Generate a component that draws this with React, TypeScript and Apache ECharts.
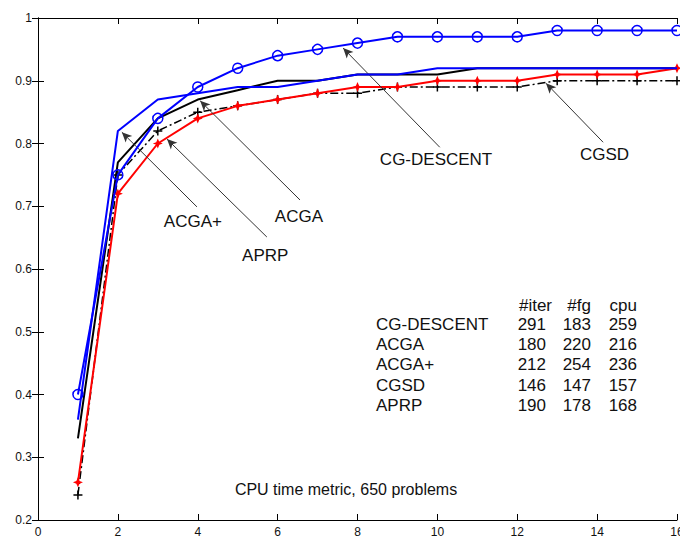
import React, { useEffect, useRef } from 'react';
import * as echarts from 'echarts';

const xValues = [1, 2, 3, 4, 5, 6, 7, 8, 9, 10, 11, 12, 13, 14, 15, 16];
const cgDescent = [0.40, 0.75, 0.84, 0.89, 0.92, 0.94, 0.95, 0.96, 0.97, 0.97, 0.97, 0.97, 0.98, 0.98, 0.98, 0.98];
const acga = [0.33, 0.77, 0.84, 0.87, 0.885, 0.90, 0.90, 0.91, 0.91, 0.91, 0.92, 0.92, 0.92, 0.92, 0.92, 0.92];
const acgaPlus = [0.36, 0.82, 0.87, 0.88, 0.89, 0.89, 0.90, 0.91, 0.91, 0.92, 0.92, 0.92, 0.92, 0.92, 0.92, 0.92];
const cgsd = [0.24, 0.75, 0.82, 0.85, 0.86, 0.87, 0.88, 0.88, 0.89, 0.89, 0.89, 0.89, 0.90, 0.90, 0.90, 0.90];
const aprp = [0.26, 0.72, 0.80, 0.84, 0.86, 0.87, 0.88, 0.89, 0.89, 0.90, 0.90, 0.90, 0.91, 0.91, 0.91, 0.92];

const tableHeaders = ['#iter', '#fg', 'cpu'];
const tableNames = ['CG-DESCENT', 'ACGA', 'ACGA+', 'CGSD', 'APRP'];
const iterCol = [291, 180, 212, 146, 190];
const fgCol = [183, 220, 254, 147, 178];
const cpuCol = [259, 216, 236, 157, 168];

const labelNames = ['CG-DESCENT', 'CGSD', 'ACGA', 'ACGA+', 'APRP'];
const labelX = [8.56, 13.57, 5.93, 3.15, 5.11];
const labelY = [0.774, 0.782, 0.683, 0.676, 0.622];
const arrowTailX = [10.06, 14.15, 6.56, 3.98, 5.73];
const arrowTailY = [0.794, 0.802, 0.71, 0.699, 0.651];
const arrowHeadX = [7.64, 12.72, 4.06, 2.10, 3.23];
const arrowHeadY = [0.952, 0.896, 0.868, 0.818, 0.807];

const caption = 'CPU time metric, 650 problems';
const captionX = 4.93;
const captionY = 0.249;

const FONT = 'Arial, "Liberation Sans", sans-serif';

const pairs = (ys: number[]) => xValues.map((x, i) => [x, ys[i]]);

export default function App() {
  const ref = useRef<HTMLDivElement>(null);
  useEffect(() => {
    if (!ref.current) return;
    const chart = echarts.init(ref.current, null, { renderer: 'svg' });
    const axisCommon = {
      axisLine: { show: true, lineStyle: { color: '#000', width: 1 } },
      axisTick: { show: true, inside: true, length: 6, lineStyle: { color: '#000' } },
      splitLine: { show: false },
    };
    const plusPath = 'path://M-5,0 L5,0 M0,-5 L0,5';
    const starPath = 'path://M0,-6 L1.6,-1.6 L5,0 L1.6,1.6 L0,6 L-1.6,1.6 L-5,0 L-1.6,-1.6 Z';
    const option: any = {
      animation: false,
      backgroundColor: '#fff',
      grid: { left: 38, right: 3, top: 18, bottom: 20, containLabel: false, outerBoundsMode: 'none' },
      xAxis: [
        {
          type: 'value', min: 0, max: 16, interval: 2, position: 'bottom',
          ...axisCommon,
          axisLabel: { color: '#111', fontSize: 12, fontFamily: FONT, margin: 6 },
        },
        {
          type: 'value', min: 0, max: 16, interval: 2, position: 'top',
          ...axisCommon,
          axisLabel: { show: false },
        },
      ],
      yAxis: [
        {
          type: 'value', min: 0.2, max: 1, interval: 0.1, position: 'left',
          ...axisCommon,
          axisLabel: { color: '#111', fontSize: 12, fontFamily: FONT, margin: 6 },
        },
        {
          type: 'value', min: 0.2, max: 1, interval: 0.1, position: 'right',
          ...axisCommon,
          axisLabel: { show: false },
        },
      ],
      series: [
        {
          name: 'CGSD', type: 'line', data: pairs(cgsd),
          lineStyle: { color: '#000', width: 1.5, type: [8, 3, 2, 3] },
          symbol: plusPath, symbolSize: 9,
          itemStyle: { color: 'rgba(0,0,0,0)', borderColor: '#000', borderWidth: 1.5 },
          z: 2,
        },
        {
          name: 'ACGA', type: 'line', data: pairs(acga),
          lineStyle: { color: '#000', width: 2 }, symbol: 'none', z: 3,
        },
        {
          name: 'APRP', type: 'line', data: pairs(aprp),
          lineStyle: { color: '#ff0000', width: 2 },
          symbol: starPath, symbolSize: 10,
          itemStyle: { color: '#ff0000' },
          z: 4,
        },
        {
          name: 'ACGA+', type: 'line', data: pairs(acgaPlus),
          lineStyle: { color: '#0000ff', width: 2 }, symbol: 'none', z: 5,
        },
        {
          name: 'CG-DESCENT', type: 'line', data: pairs(cgDescent),
          lineStyle: { color: '#0000ff', width: 2 },
          symbol: 'circle', symbolSize: 10,
          itemStyle: { color: 'rgba(0,0,0,0)', borderColor: '#0000ff', borderWidth: 1.5 },
          z: 6,
        },
        {
          name: 'arrows', type: 'line', data: [], z: 7, silent: true,
          markLine: {
            silent: true,
            symbol: ['none', 'arrow'],
            symbolSize: [7, 10],
            label: { show: false },
            lineStyle: { color: '#333', width: 1, type: 'solid' },
            data: labelNames.map((_, i) => [
              { coord: [arrowTailX[i], arrowTailY[i]] },
              { coord: [arrowHeadX[i], arrowHeadY[i]] },
            ]),
          },
        },
      ],
    };
    chart.setOption(option);

    const toPx = (x: number, y: number) =>
      chart.convertToPixel({ xAxisIndex: 0, yAxisIndex: 0 }, [x, y]) as number[];
    const textStyle = (t: string, align = 'left') => ({
      text: t, fill: '#111', fontSize: 17, fontFamily: FONT, align, verticalAlign: 'middle',
    });
    const graphics: any[] = [];
    labelNames.forEach((name, i) => {
      const p = toPx(labelX[i], labelY[i]);
      graphics.push({ type: 'text', x: p[0], y: p[1], style: textStyle(name), z: 10 });
    });
    const cp = toPx(captionX, captionY);
    graphics.push({ type: 'text', x: cp[0], y: cp[1], style: { ...textStyle(caption), fontSize: 16 }, z: 10 });

    const nameLeft = 376;
    const colRight = [546, 591, 637];
    const headerY = 305;
    const rowY = [324, 344, 364, 385, 405];
    tableHeaders.forEach((h, j) => {
      graphics.push({ type: 'text', x: colRight[j] + (j === 0 ? 6 : 0), y: headerY, style: textStyle(h, 'right'), z: 10 });
    });
    tableNames.forEach((n, i) => {
      graphics.push({ type: 'text', x: nameLeft, y: rowY[i], style: textStyle(n), z: 10 });
      [iterCol, fgCol, cpuCol].forEach((col, j) => {
        graphics.push({ type: 'text', x: colRight[j], y: rowY[i], style: textStyle(String(col[i]), 'right'), z: 10 });
      });
    });
    chart.setOption({ graphic: graphics });

    return () => chart.dispose();
  }, []);
  return (
    <div
      ref={ref}
      style={{ position: 'fixed', left: 0, top: 0, width: 680, height: 540, background: '#fff' }}
    />
  );
}
